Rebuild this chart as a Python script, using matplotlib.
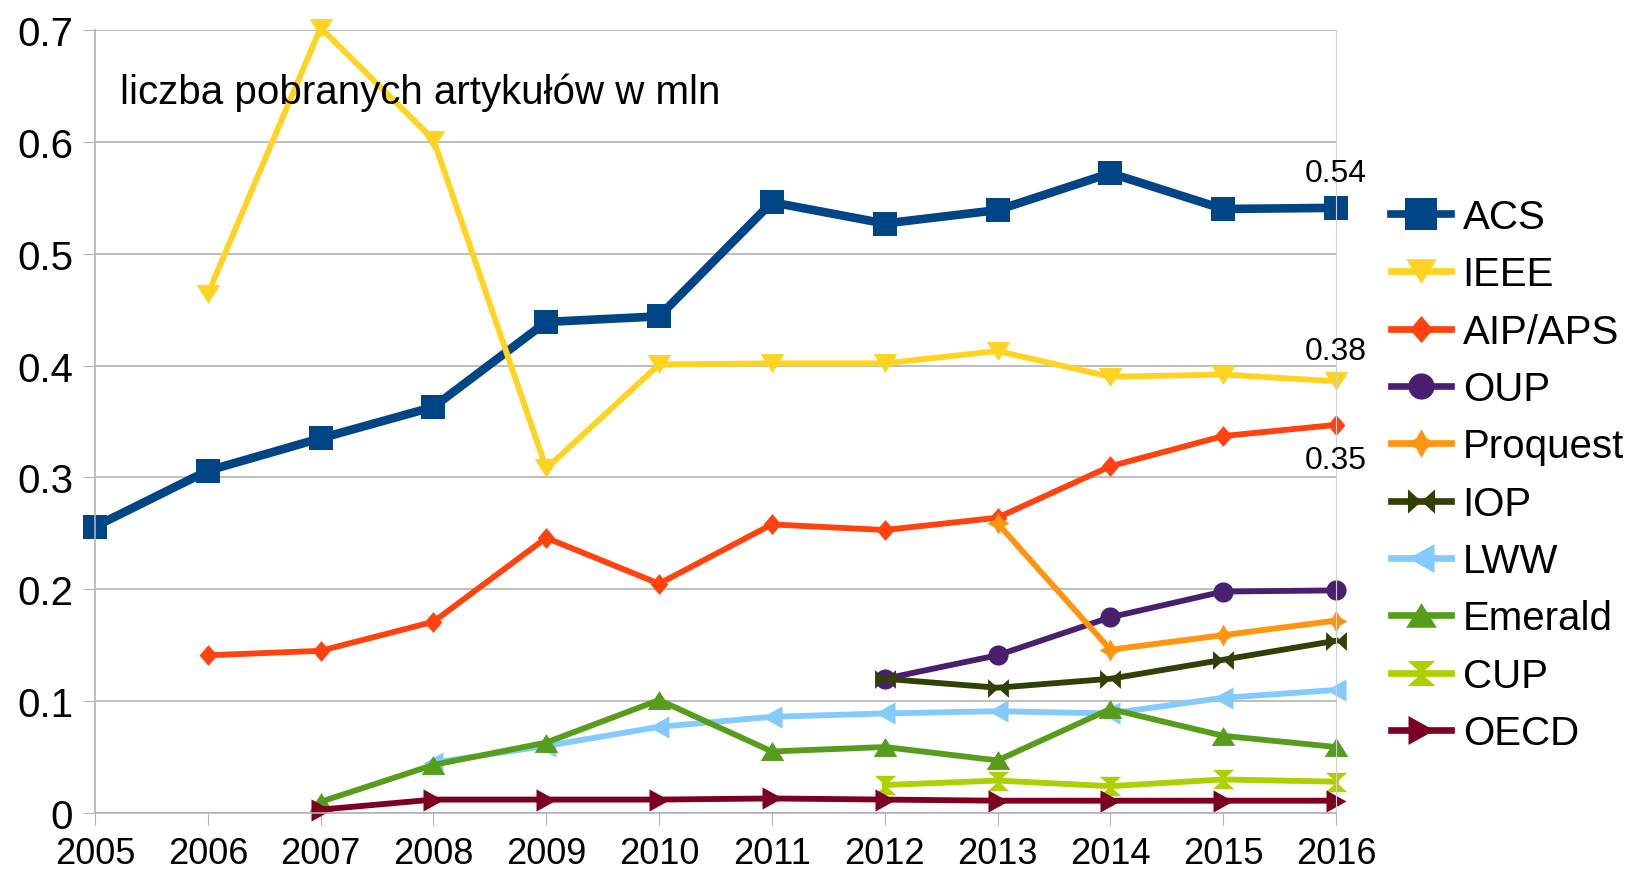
import numpy as np
import matplotlib
matplotlib.use("Agg")
import matplotlib.pyplot as plt

plt.rcParams['font.family'] = ['Liberation Sans', 'DejaVu Sans']

nan = np.nan
years = [2005, 2006, 2007, 2008, 2009, 2010, 2011, 2012, 2013, 2014, 2015, 2016]

acs = [0.256, 0.306, 0.335, 0.363, 0.439, 0.444, 0.546, 0.527, 0.539, 0.572, 0.540, 0.541]
ieee = [nan, 0.464, 0.702, 0.602, 0.308, 0.401, 0.402, 0.402, 0.413, 0.390, 0.392, 0.386]
aip = [nan, 0.141, 0.145, 0.171, 0.246, 0.205, 0.258, 0.253, 0.264, 0.310, 0.337, 0.347]
oup = [nan, nan, nan, nan, nan, nan, nan, 0.120, 0.141, 0.175, 0.198, 0.199]
proquest = [nan, nan, nan, nan, nan, nan, nan, nan, 0.259, 0.146, 0.159, 0.172]
iop = [nan, nan, nan, nan, nan, nan, nan, 0.120, 0.112, 0.120, 0.137, 0.154]
lww = [nan, nan, nan, 0.045, 0.060, 0.077, 0.086, 0.089, 0.091, 0.089, 0.103, 0.110]
emerald = [nan, nan, 0.010, 0.043, 0.063, 0.101, 0.055, 0.059, 0.047, 0.093, 0.069, 0.059]
cup = [nan, nan, nan, nan, nan, nan, nan, 0.025, 0.029, 0.024, 0.030, 0.028]
oecd = [nan, nan, 0.003, 0.012, 0.012, 0.012, 0.013, 0.012, 0.011, 0.011, 0.011, 0.011]

y_ticks = [0, 0.1, 0.2, 0.3, 0.4, 0.5, 0.6, 0.7]
y_labels = ["0", "0.1", "0.2", "0.3", "0.4", "0.5", "0.6", "0.7"]

# marker shapes (a bit flatter / taller than the built-in ones)
tri_up = [(0, 0.8), (-1, -0.8), (1, -0.8)]
tri_down = [(0, -0.8), (-1, 0.8), (1, 0.8)]
tri_left = [(-0.9, 0), (0.9, 1), (0.9, -1)]
tri_right = [(0.9, 0), (-0.9, 1), (-0.9, -1)]
diamond = [(0, 1), (0.85, 0), (0, -1), (-0.85, 0)]
bowtie_h = [(-1, -0.9), (1, 0.9), (1, -0.9), (-1, 0.9), (-1, -0.9)]
bowtie_v = [(-1, -0.9), (1, 0.9), (-1, 0.9), (1, -0.9), (-1, -0.9)]

series = [
    ("ACS", acs, "#004586", "s", 17.5, 6.2),
    ("IEEE", ieee, "#ffd320", tri_down, 17, 4.2),
    ("AIP/APS", aip, "#ff420e", diamond, 15, 4.2),
    ("OUP", oup, "#4b1f6f", "o", 14.5, 4.2),
    ("Proquest", proquest, "#ff950e", (4, 1, 0), 16, 4.2),
    ("IOP", iop, "#314004", bowtie_h, 15, 4.2),
    ("LWW", lww, "#83caff", tri_left, 16, 4.2),
    ("Emerald", emerald, "#579d1c", tri_up, 17, 4.2),
    ("CUP", cup, "#aecf00", bowtie_v, 15.5, 4.2),
    ("OECD", oecd, "#7e0021", tri_right, 16, 4.2),
]

fig = plt.figure(figsize=(16.35, 8.7), dpi=100)
ax = fig.add_axes([95 / 1635, 56 / 870, (1336 - 95) / 1635, (814 - 31) / 870])

for name, vals, color, marker, ms, lw in series:
    ax.plot(years, np.array(vals, dtype=float), color=color, marker=marker,
            markersize=ms, linewidth=lw, label=name, clip_on=False,
            markeredgewidth=0)

# value labels at the last year
ax.annotate("0.54", (years[-1], acs[-1]), xytext=(0, 25), textcoords="offset points",
            ha="center", va="center", fontsize=23)
ax.annotate("0.38", (years[-1], ieee[-1]), xytext=(0, 22), textcoords="offset points",
            ha="center", va="center", fontsize=23)
ax.annotate("0.35", (years[-1], aip[-1]), xytext=(0, -25), textcoords="offset points",
            ha="center", va="center", fontsize=23)

fig.text(120 / 1635, 1 - 93 / 870, "liczba pobranych artykułów w mln",
         fontsize=29, va="center", ha="left")

ax.set_xlim(2005, 2016)
ax.set_ylim(0, 0.7)
ax.set_xticks(years)
ax.set_yticks(y_ticks)
ax.set_yticklabels(y_labels)
ax.tick_params(axis="x", labelsize=26, length=8.6, color="#b3b3b3", pad=8)
ax.tick_params(axis="y", labelsize=29, length=8.6, color="#b3b3b3", pad=7)
ax.grid(axis="y", color="#b3b3b3", linewidth=1.2)
ax.set_axisbelow(True)
for side in ["left", "bottom", "right"]:
    ax.spines[side].set_color("#b3b3b3")
ax.spines["left"].set_linewidth(1.2)
ax.spines["bottom"].set_linewidth(1.2)
ax.spines["right"].set_linewidth(0.8)
ax.spines["right"].set_color("#d0d0d0")
ax.spines["top"].set_visible(False)

leg = fig.legend(loc="upper left", bbox_to_anchor=(1391 / 1635, 1 - 199 / 870), frameon=False,
                 fontsize=29, handlelength=1.5, handletextpad=0.28, labelspacing=0.48,
                 borderaxespad=0, borderpad=0, markerscale=1.3)
for i, line in enumerate(leg.get_lines()):
    line.set_linewidth(5.5 if i == 0 else 4.8)

fig.savefig("out.png", dpi=100)
